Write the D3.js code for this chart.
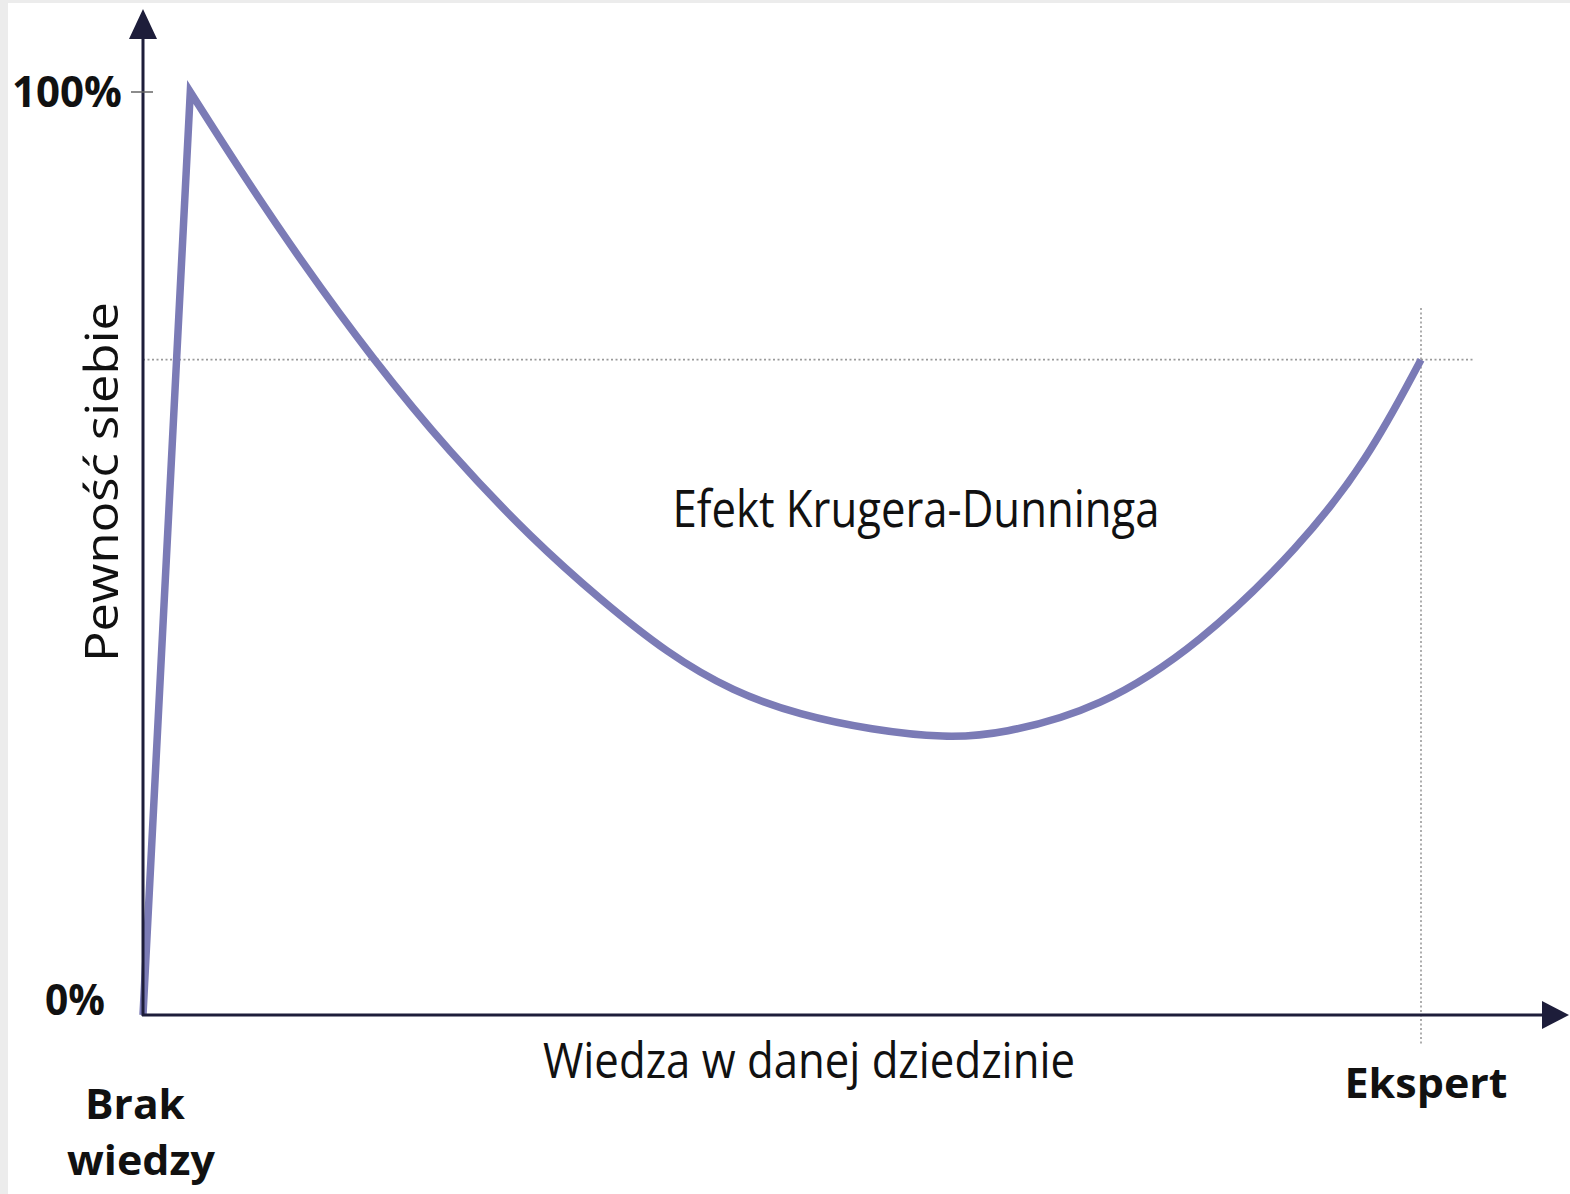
<!DOCTYPE html>
<html>
<head>
<meta charset="utf-8">
<script src="https://cdn.jsdelivr.net/npm/d3@7"></script>
<style>
  body { margin: 0; background: #fff; }
  svg { display: block; }
  text { font-family: "Open Sans", "Noto Sans", sans-serif; fill: #111; }
</style>
</head>
<body>
<svg id="chart"></svg>
<script>
// knowledge in the field (0 = none, 100 = expert) vs self-confidence (%)
const knowledge  = [0, 3.7, 7.6, 12.3, 18.0, 24.0, 30.5, 35.8, 41.0, 46.2, 51.4, 57.0, 62.8, 67.1, 74.9, 82.7, 90.5, 95.8, 100];
const confidence = [0, 100, 91.5, 81.8, 71.0, 60.9, 51.5, 45.0, 39.2, 35.0, 32.5, 30.9, 30.0, 30.4, 33.2, 40.2, 50.7, 60.1, 71];
const yTicks = [0, 100];
const yTickLabels = ['0%', '100%'];
const expertLevel = 100;
const expertConfidence = 71;

const W = 1570, H = 1194;

let svg = d3.select('#chart')
    .attr('width', W)
    .attr('height', H);

// light grey frame of the original screenshot
svg.append('rect').attr('width', W).attr('height', H).attr('fill', '#ececec');
svg.append('rect').attr('x', 8).attr('y', 3).attr('width', W - 8).attr('height', H - 3).attr('fill', '#fff');

let xScale = d3.scaleLinear().domain([0, 100]).range([143, 1421]);
let yScale = d3.scaleLinear().domain([0, 100]).range([1015, 92]);

const axisColor = '#1d1d3a';
const dotColor = '#9a9a9a';

// dotted guides for the expert point
svg.append('line')
    .attr('x1', xScale(0)).attr('x2', 1475)
    .attr('y1', yScale(expertConfidence)).attr('y2', yScale(expertConfidence))
    .attr('stroke', dotColor).attr('stroke-width', 1.6)
    .attr('stroke-dasharray', '2,2.5');

svg.append('line')
    .attr('x1', xScale(expertLevel)).attr('x2', xScale(expertLevel))
    .attr('y1', 308).attr('y2', 1045)
    .attr('stroke', dotColor).attr('stroke-width', 1.6)
    .attr('stroke-dasharray', '2,2.5');

// the curve: straight rise to the peak, smooth after it
let pts = knowledge.map((k, i) => [xScale(k), yScale(confidence[i])]);
let lineGen = d3.line().curve(d3.curveBasis);
let rest = lineGen(pts.slice(1));
let d = `M${pts[0][0]},${pts[0][1]}L` + rest.slice(1);

svg.append('path')
    .attr('d', d)
    .attr('fill', 'none')
    .attr('stroke', '#7b7bb6')
    .attr('stroke-width', 7.5)
    .attr('stroke-linejoin', 'miter')
    .attr('stroke-miterlimit', 20);

// axes
svg.append('line')
    .attr('x1', xScale(0)).attr('x2', xScale(0))
    .attr('y1', yScale(0) + 1).attr('y2', 30)
    .attr('stroke', axisColor).attr('stroke-width', 3);

svg.append('line')
    .attr('x1', xScale(0) - 1).attr('x2', 1550)
    .attr('y1', yScale(0)).attr('y2', yScale(0))
    .attr('stroke', axisColor).attr('stroke-width', 3);

svg.append('path')
    .attr('d', `M${xScale(0)},9 L${xScale(0) - 14},39 L${xScale(0) + 14},39 Z`)
    .attr('fill', axisColor);

svg.append('path')
    .attr('d', `M1569,${yScale(0)} L1542,${yScale(0) - 14} L1542,${yScale(0) + 14} Z`)
    .attr('fill', axisColor);

// y tick at 100%
svg.append('line')
    .attr('x1', xScale(0) - 12).attr('x2', xScale(0) + 10)
    .attr('y1', yScale(100)).attr('y2', yScale(100))
    .attr('stroke', '#666').attr('stroke-width', 1.5);

// tick labels
svg.selectAll('.yLabel')
    .data(yTicks)
    .join('text')
    .classed('yLabel', true)
    .attr('x', (d, i) => i == 0 ? 105 : 122)
    .attr('y', d => d == 0 ? yScale(d) : yScale(d) + 15)
    .attr('text-anchor', 'end')
    .attr('font-size', 43)
    .attr('font-weight', 700)
    .attr('textLength', (d, i) => i == 0 ? 60 : 110)
    .attr('lengthAdjust', 'spacingAndGlyphs')
    .text((d, i) => yTickLabels[i]);

// axis titles
svg.append('text')
    .attr('transform', `translate(118, 482) rotate(-90)`)
    .attr('text-anchor', 'middle')
    .attr('font-size', 46)
    .attr('textLength', 360)
    .attr('lengthAdjust', 'spacingAndGlyphs')
    .text('Pewność siebie');

svg.append('text')
    .attr('x', 809).attr('y', 1078)
    .attr('text-anchor', 'middle')
    .attr('font-size', 50)
    .attr('textLength', 532)
    .attr('lengthAdjust', 'spacingAndGlyphs')
    .text('Wiedza w danej dziedzinie');

svg.append('text')
    .attr('x', 916).attr('y', 527)
    .attr('text-anchor', 'middle')
    .attr('font-size', 52)
    .attr('textLength', 487)
    .attr('lengthAdjust', 'spacingAndGlyphs')
    .text('Efekt Krugera-Dunninga');

// ends of the x axis
svg.append('text')
    .attr('x', 1426).attr('y', 1098)
    .attr('text-anchor', 'middle')
    .attr('font-size', 42)
    .attr('font-weight', 700)
    .attr('textLength', 163)
    .attr('lengthAdjust', 'spacingAndGlyphs')
    .text('Ekspert');

svg.append('text')
    .attr('x', 135).attr('y', 1119)
    .attr('text-anchor', 'middle')
    .attr('font-size', 42)
    .attr('font-weight', 700)
    .attr('textLength', 100)
    .attr('lengthAdjust', 'spacingAndGlyphs')
    .text('Brak');

svg.append('text')
    .attr('x', 141).attr('y', 1175)
    .attr('text-anchor', 'middle')
    .attr('font-size', 42)
    .attr('font-weight', 700)
    .attr('textLength', 148)
    .attr('lengthAdjust', 'spacingAndGlyphs')
    .text('wiedzy');
</script>
</body>
</html>
